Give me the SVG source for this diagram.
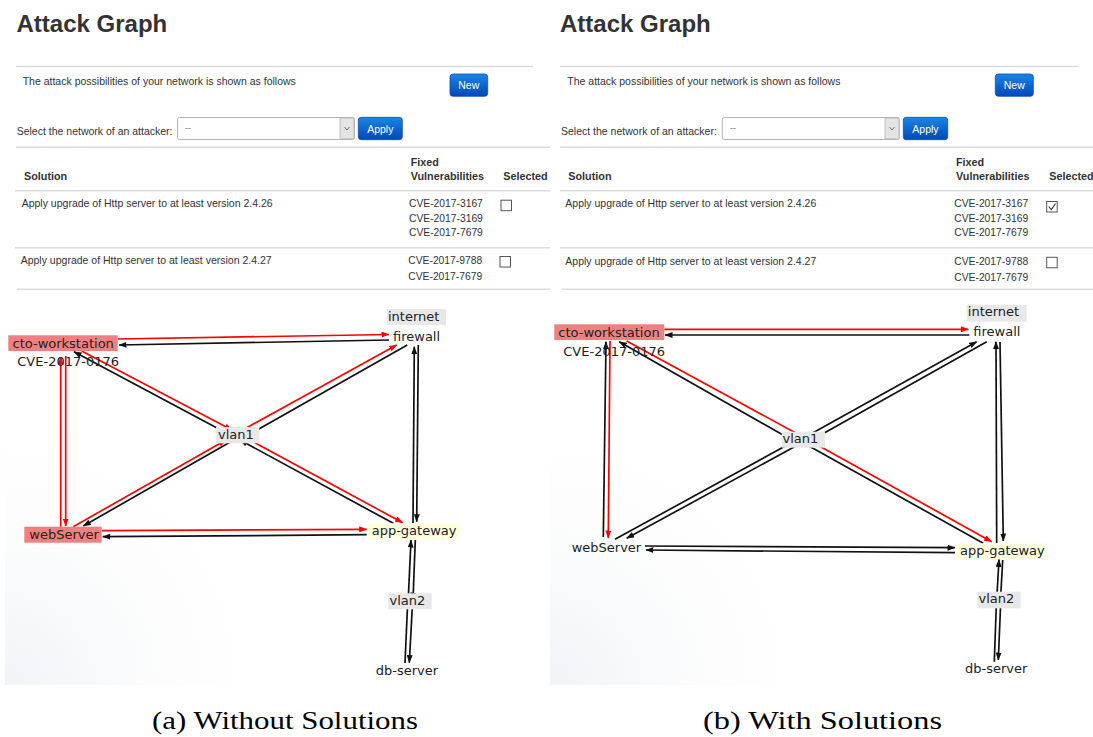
<svg xmlns="http://www.w3.org/2000/svg" width="1093" height="737" viewBox="0 0 1093 737">
<style>
.h1{font-family:"Liberation Sans",Arial,sans-serif;font-weight:bold;font-size:24px;fill:#333}
.t{font-family:"Liberation Sans",Arial,sans-serif;font-size:10.5px;fill:#333}
.cv{font-family:"Liberation Sans",Arial,sans-serif;font-size:10.3px;fill:#333}
.th{font-family:"Liberation Sans",Arial,sans-serif;font-weight:bold;font-size:10.8px;fill:#333}
.bt{font-family:"Liberation Sans",Arial,sans-serif;font-size:10.5px;fill:#fff;text-anchor:middle}
.div{stroke:#dcdcdc;stroke-width:1.4}
.g{font-family:"DejaVu Sans",Verdana,sans-serif;font-size:13px;fill:#222}
.cap{font-family:"Liberation Serif","Times New Roman",serif;font-size:26px;fill:#000}
.k{stroke:#111;stroke-width:1.7;fill:none;marker-end:url(#ak)}
.r{stroke:#f00;stroke-width:1.7;fill:none;marker-end:url(#ar)}
.cb{fill:#fff;stroke:#555;stroke-width:1}
.red{fill:#f08080}
.gray{fill:#e8e8e8}
.yel{fill:#ffffe0}
</style>
<defs>
<marker id="ak" markerWidth="8" markerHeight="6" refX="7.5" refY="3" orient="auto" markerUnits="userSpaceOnUse"><path d="M0,0 L8,3 L0,6 z" fill="#111"/></marker>
<marker id="ar" markerWidth="8" markerHeight="6" refX="7.5" refY="3" orient="auto" markerUnits="userSpaceOnUse"><path d="M0,0 L8,3 L0,6 z" fill="#f00"/></marker>
<linearGradient id="btn" x1="0" y1="0" x2="0" y2="1"><stop offset="0" stop-color="#1a86e6"/><stop offset="1" stop-color="#0047b8"/></linearGradient>
<radialGradient id="shade" cx="0" cy="1" r="1"><stop offset="0" stop-color="#e6e9ee"/><stop offset="1" stop-color="#ffffff" stop-opacity="0"/></radialGradient>
</defs>
<rect width="1093" height="737" fill="#fff"/>
<rect x="5" y="380" width="300" height="305" fill="url(#shade)" opacity="0.55"/>
<rect x="550" y="380" width="300" height="305" fill="url(#shade)" opacity="0.55"/>

<!-- Left header and table -->
<g id="panelA-header">
<text class="h1" x="16.5" y="32">Attack Graph</text>
<line class="div" x1="16" y1="66.5" x2="533" y2="66.5"/>
<text class="t" x="22.7" y="85">The attack possibilities of your network is shown as follows</text>
<rect x="450" y="74" width="37.7" height="22.3" rx="3" fill="url(#btn)" stroke="#0a4fb0" stroke-width="0.8"/>
<text class="bt" x="468.8" y="89">New</text>
<text class="t" x="16.7" y="135">Select the network of an attacker:</text>
<rect x="177.5" y="117.5" width="177" height="22" rx="2" fill="#fff" stroke="#b5b5b5"/>
<rect x="340" y="118" width="14" height="21" fill="#e4e4e4" stroke="#b5b5b5" stroke-width="0.8"/>
<polyline points="344.5,127 347,130 349.5,127" fill="none" stroke="#666" stroke-width="0.9"/>
<text class="t" x="185" y="131" style="fill:#777;font-size:9px">--</text>
<rect x="358.3" y="117.3" width="44" height="22.4" rx="3" fill="url(#btn)" stroke="#0a4fb0" stroke-width="0.8"/>
<text class="bt" x="380.3" y="132.5">Apply</text>
<line class="div" x1="16" y1="147.3" x2="550" y2="147.3"/>
<text class="th" x="24" y="180">Solution</text>
<text class="th" x="410.7" y="165.7">Fixed</text>
<text class="th" x="410.7" y="180">Vulnerabilities</text>
<text class="th" x="503.3" y="180">Selected</text>
<line class="div" x1="15" y1="190.7" x2="550" y2="190.7"/>
<text class="t" x="21.7" y="207.3">Apply upgrade of Http server to at least version 2.4.26</text>
<text class="cv" x="409" y="207.3">CVE-2017-3167</text>
<text class="cv" x="409" y="221.7">CVE-2017-3169</text>
<text class="cv" x="409" y="236.3">CVE-2017-7679</text>
<rect class="cb" x="501" y="200.2" width="10.5" height="10.5"/>
<line class="div" x1="15" y1="247.7" x2="550" y2="247.7"/>
<text class="t" x="20.7" y="264.3">Apply upgrade of Http server to at least version 2.4.27</text>
<text class="cv" x="408.3" y="264.3">CVE-2017-9788</text>
<text class="cv" x="408.3" y="280">CVE-2017-7679</text>
<rect class="cb" x="500" y="256.5" width="10.5" height="10.5"/>
<line class="div" x1="16.7" y1="289.3" x2="550" y2="289.3"/>
</g>

<!-- Right header and table -->
<g id="panelB-header" transform="translate(545,0)">
<text class="h1" x="15" y="32">Attack Graph</text>
<line class="div" x1="15" y1="66.5" x2="533" y2="66.5"/>
<text class="t" x="22.3" y="85">The attack possibilities of your network is shown as follows</text>
<rect x="450.3" y="74" width="38" height="22.3" rx="3" fill="url(#btn)" stroke="#0a4fb0" stroke-width="0.8"/>
<text class="bt" x="469.3" y="89">New</text>
<text class="t" x="16" y="135">Select the network of an attacker:</text>
<rect x="177.3" y="117.5" width="177" height="22" rx="2" fill="#fff" stroke="#b5b5b5"/>
<rect x="340" y="118" width="14" height="21" fill="#e4e4e4" stroke="#b5b5b5" stroke-width="0.8"/>
<polyline points="344.5,127 347,130 349.5,127" fill="none" stroke="#666" stroke-width="0.9"/>
<text class="t" x="185" y="131" style="fill:#777;font-size:9px">--</text>
<rect x="358.3" y="117.3" width="44.4" height="22.4" rx="3" fill="url(#btn)" stroke="#0a4fb0" stroke-width="0.8"/>
<text class="bt" x="380.5" y="132.5">Apply</text>
<line class="div" x1="15" y1="147.3" x2="548" y2="147.3"/>
<text class="th" x="23.3" y="180">Solution</text>
<text class="th" x="411" y="165.7">Fixed</text>
<text class="th" x="411" y="180">Vulnerabilities</text>
<text class="th" x="504.3" y="180">Selected</text>
<line class="div" x1="15" y1="190.7" x2="548" y2="190.7"/>
<text class="t" x="20.3" y="207.3">Apply upgrade of Http server to at least version 2.4.26</text>
<text class="cv" x="409.3" y="207.3">CVE-2017-3167</text>
<text class="cv" x="409.3" y="221.7">CVE-2017-3169</text>
<text class="cv" x="409.3" y="236.3">CVE-2017-7679</text>
<rect class="cb" x="501.7" y="201.5" width="10.5" height="10.5"/>
<polyline points="503.8,206.5 506.3,209.5 510.5,203.5" fill="none" stroke="#333" stroke-width="1.1"/>
<line class="div" x1="15" y1="247.7" x2="548" y2="247.7"/>
<text class="t" x="20.3" y="265">Apply upgrade of Http server to at least version 2.4.27</text>
<text class="cv" x="409.3" y="265">CVE-2017-9788</text>
<text class="cv" x="409.3" y="280.5">CVE-2017-7679</text>
<rect class="cb" x="501.7" y="257.3" width="10.5" height="10.5"/>
<line class="div" x1="17" y1="289.3" x2="548" y2="289.3"/>
</g>

<!-- Connectors -->
<g id="connectors">
<!-- panel a -->
<line class="r" x1="118" y1="339" x2="389" y2="334.5"/>
<line class="k" x1="389" y1="340" x2="119" y2="345"/>
<line class="r" x1="65.7" y1="356" x2="65.7" y2="526"/>
<line class="r" x1="60.7" y1="527" x2="60.7" y2="357"/>
<line class="k" x1="217" y1="428" x2="74" y2="351.7"/>
<line class="r" x1="81.7" y1="351" x2="232" y2="430"/>
<line class="r" x1="246.7" y1="427.7" x2="396.7" y2="345"/>
<line class="k" x1="407.3" y1="345" x2="250" y2="434"/>
<line class="r" x1="73.3" y1="526.7" x2="226" y2="440"/>
<line class="k" x1="232" y1="441" x2="83.3" y2="526"/>
<line class="r" x1="250" y1="440" x2="402.7" y2="522.7"/>
<line class="k" x1="393.3" y1="523.3" x2="240" y2="440"/>
<line class="r" x1="102" y1="530.7" x2="366.7" y2="529.3"/>
<line class="k" x1="366.7" y1="534.7" x2="102.7" y2="536.7"/>
<line class="k" x1="413" y1="523" x2="414.3" y2="346.7"/>
<line class="k" x1="418.3" y1="345" x2="416.7" y2="521.7"/>
<line class="k" x1="408.2" y1="600" x2="411" y2="540"/>
<line class="k" x1="415.3" y1="540" x2="413" y2="600"/>
<line class="k" x1="405" y1="663" x2="407.8" y2="600"/>
<line class="k" x1="412.7" y1="600" x2="409.3" y2="662.7"/>
<!-- panel b -->
<line class="r" x1="664.3" y1="329.3" x2="968.3" y2="329.3"/>
<line class="k" x1="969.3" y1="335" x2="665" y2="335"/>
<line class="k" x1="790" y1="439" x2="619.3" y2="341.7"/>
<line class="r" x1="626.7" y1="341" x2="805" y2="438"/>
<line class="k" x1="800" y1="440" x2="976.7" y2="341.7"/>
<line class="k" x1="986.7" y1="341.7" x2="810" y2="441"/>
<line class="k" x1="615" y1="539.3" x2="800" y2="438"/>
<line class="k" x1="805" y1="441" x2="626.7" y2="538.3"/>
<line class="r" x1="805" y1="438" x2="991.7" y2="541.7"/>
<line class="k" x1="983.3" y1="543.3" x2="800" y2="441"/>
<line class="k" x1="603.3" y1="537" x2="606" y2="341.7"/>
<line class="r" x1="610" y1="341" x2="608.3" y2="538"/>
<line class="k" x1="645" y1="546" x2="955" y2="547.7"/>
<line class="k" x1="955" y1="552.7" x2="646" y2="550"/>
<line class="k" x1="996.7" y1="543" x2="996" y2="341.7"/>
<line class="k" x1="1000" y1="342" x2="1003.3" y2="541"/>
<line class="k" x1="996.7" y1="600" x2="999" y2="559.3"/>
<line class="k" x1="1002.7" y1="560" x2="1000.5" y2="600"/>
<line class="k" x1="994.3" y1="661.7" x2="996.5" y2="600"/>
<line class="k" x1="1000.8" y1="600" x2="998.3" y2="660"/>
</g>

<!-- Nodes panel a -->
<g id="a-internet"><rect class="gray" x="387" y="309" width="59" height="16"/><text class="g" x="388" y="320.5">internet</text></g>
<g id="a-firewall"><text class="g" x="393" y="340.5">firewall</text></g>
<g id="a-cto-workstation"><rect class="red" x="8.3" y="335.3" width="109.4" height="15.7"/><text class="g" x="12.5" y="347.5">cto-workstation</text><text class="g" x="17.3" y="366">CVE-2017-0176</text></g>
<g id="a-vlan1"><rect class="gray" x="216" y="427" width="43.3" height="16.3"/><text class="g" x="218" y="439">vlan1</text></g>
<g id="a-webServer"><rect class="red" x="24.3" y="526.7" width="77.4" height="16"/><text class="g" x="29.3" y="539">webServer</text></g>
<g id="a-app-gateway"><rect class="yel" x="367.7" y="523.3" width="92.3" height="16"/><text class="g" x="371.7" y="535">app-gateway</text></g>
<g id="a-vlan2"><rect class="gray" x="388.3" y="593.3" width="43.4" height="16"/><text class="g" x="389.5" y="604.5">vlan2</text></g>
<g id="a-db-server"><text class="g" x="375.7" y="675">db-server</text></g>

<!-- Nodes panel b -->
<g id="b-internet"><rect class="gray" x="966.7" y="305" width="60" height="16.7"/><text class="g" x="967.8" y="316">internet</text></g>
<g id="b-firewall"><text class="g" x="973.3" y="336">firewall</text></g>
<g id="b-cto-workstation"><rect class="red" x="554.3" y="324.3" width="110" height="15.7"/><text class="g" x="558.3" y="336.5">cto-workstation</text><text class="g" x="563.3" y="355.7">CVE-2017-0176</text></g>
<g id="b-vlan1"><rect class="gray" x="781.7" y="431.7" width="43.3" height="16"/><text class="g" x="782.5" y="443">vlan1</text></g>
<g id="b-webServer"><text class="g" x="571.7" y="551.7">webServer</text></g>
<g id="b-app-gateway"><rect class="yel" x="956" y="543.3" width="89.7" height="16"/><text class="g" x="960" y="555">app-gateway</text></g>
<g id="b-vlan2"><rect class="gray" x="977.7" y="591.7" width="43" height="16.6"/><text class="g" x="978.5" y="602.7">vlan2</text></g>
<g id="b-db-server"><text class="g" x="965" y="673.3">db-server</text></g>

<!-- Captions -->
<text class="cap" x="152" y="729" textLength="266" lengthAdjust="spacingAndGlyphs">(a) Without Solutions</text>
<text class="cap" x="703" y="729" textLength="239" lengthAdjust="spacingAndGlyphs">(b) With Solutions</text>
</svg>
